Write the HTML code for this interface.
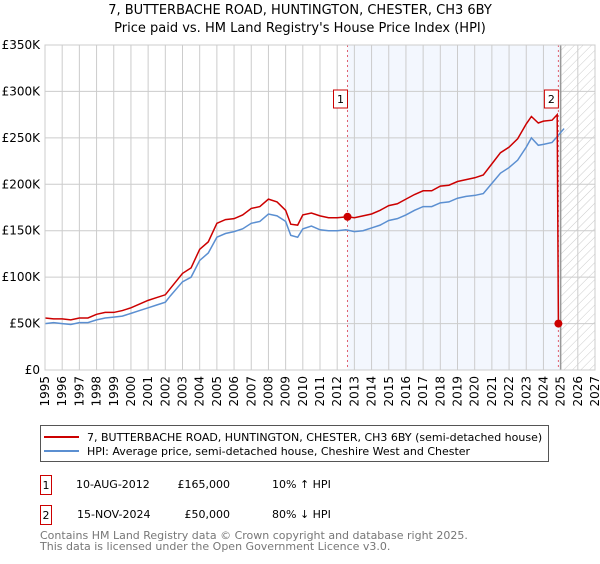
<!DOCTYPE html>
<html><head><meta charset="utf-8"><style>
body{margin:0;background:#fff;font-family:"DejaVu Sans","Liberation Sans",sans-serif;}
svg text{font-family:"DejaVu Sans","Liberation Sans",sans-serif;}
</style></head><body>
<svg id="c" width="600" height="560" viewBox="0 0 600 560" xmlns="http://www.w3.org/2000/svg">
<defs><pattern id="hatch" width="6" height="6" patternUnits="userSpaceOnUse" patternTransform="rotate(45)"><line x1="0" y1="0" x2="0" y2="6" stroke="#ccc" stroke-width="1"/></pattern></defs>
<text x="300" y="14" text-anchor="middle" font-size="13">7, BUTTERBACHE ROAD, HUNTINGTON, CHESTER, CH3 6BY</text>
<text x="300" y="32" text-anchor="middle" font-size="13">Price paid vs. HM Land Registry's House Price Index (HPI)</text>
<g id="plot"></g>
<g>
<rect x="40.5" y="425.5" width="508" height="36" fill="#fff" stroke="#555"/>
<line x1="44" y1="437" x2="79" y2="437" stroke="#cc0000" stroke-width="2"/>
<text x="87" y="441" font-size="11">7, BUTTERBACHE ROAD, HUNTINGTON, CHESTER, CH3 6BY (semi-detached house)</text>
<line x1="44" y1="451" x2="79" y2="451" stroke="#5b8fd1" stroke-width="2"/>
<text x="87" y="455" font-size="11">HPI: Average price, semi-detached house, Cheshire West and Chester</text>
</g>
<g font-size="11">
<rect x="40.5" y="475.5" width="11" height="19" fill="#fff" stroke="#cc0000"/><text x="46" y="489" text-anchor="middle">1</text>
<text x="76" y="488">10-AUG-2012</text><text x="230" y="488" text-anchor="end">£165,000</text><text x="272" y="488">10% ↑ HPI</text>
<rect x="40.5" y="505.5" width="11" height="19" fill="#fff" stroke="#cc0000"/><text x="46" y="519" text-anchor="middle">2</text>
<text x="77" y="518">15-NOV-2024</text><text x="230" y="518" text-anchor="end">£50,000</text><text x="272" y="518">80% ↓ HPI</text>
</g>
<text x="40" y="539" font-size="11" fill="#777">Contains HM Land Registry data © Crown copyright and database right 2025.</text>
<text x="40" y="550" font-size="11" fill="#777">This data is licensed under the Open Government Licence v3.0.</text>
</svg>
<script>
const hpiYears=[1995,1995.5,1996,1996.5,1997,1997.5,1998,1998.5,1999,1999.5,2000,2000.5,2001,2001.5,2002,2002.3,2003,2003.5,2004,2004.5,2005,2005.5,2006,2006.5,2007,2007.5,2008,2008.5,2009,2009.3,2009.7,2010,2010.5,2011,2011.5,2012,2012.5,2013,2013.5,2014,2014.5,2015,2015.5,2016,2016.5,2017,2017.5,2018,2018.5,2019,2019.5,2020,2020.5,2021,2021.5,2022,2022.5,2023,2023.3,2023.7,2024,2024.5,2025.2];
const hpiValues=[50,51,50,49,51,51,54,56,57,58,61,64,67,70,73,80,95,100,118,126,143,147,149,152,158,160,168,166,160,145,143,152,155,151,150,150,151,149,150,153,156,161,163,167,172,176,176,180,181,185,187,188,190,201,212,218,226,240,250,242,243,245,260];
const saleYears=[1995,1995.5,1996,1996.5,1997,1997.5,1998,1998.5,1999,1999.5,2000,2000.5,2001,2001.5,2002,2002.3,2003,2003.5,2004,2004.5,2005,2005.5,2006,2006.5,2007,2007.5,2008,2008.5,2009,2009.3,2009.7,2010,2010.5,2011,2011.5,2012,2012.6,2013,2013.5,2014,2014.5,2015,2015.5,2016,2016.5,2017,2017.5,2018,2018.5,2019,2019.5,2020,2020.5,2021,2021.5,2022,2022.5,2023,2023.3,2023.7,2024,2024.5,2024.8,2024.87];
const saleValues=[56,55,55,54,56,56,60,62,62,64,67,71,75,78,81,88,104,110,130,138,158,162,163,167,174,176,184,181,172,157,156,167,169,166,164,164,165,164,166,168,172,177,179,184,189,193,193,198,199,203,205,207,210,222,234,240,249,265,273,266,268,269,275,50];
const sales=[{year:2012.6,value:165,label:"1"},{year:2024.87,value:50,label:"2"}];
const yTicks=[0,50,100,150,200,250,300,350];
const yTickLabels=["£0","£50K","£100K","£150K","£200K","£250K","£300K","£350K"];
const xTicks=[1995,1996,1997,1998,1999,2000,2001,2002,2003,2004,2005,2006,2007,2008,2009,2010,2011,2012,2013,2014,2015,2016,2017,2018,2019,2020,2021,2022,2023,2024,2025,2026,2027];
const X0=45,X1=595,Y0=370,Y1=45;
const xs=y=>X0+(y-1995)/(2027-1995)*(X1-X0);
const ys=v=>Y0-v/350*(Y0-Y1);
const NS="http://www.w3.org/2000/svg";
const g=document.getElementById('plot');
function mk(t,a){const e=document.createElementNS(NS,t);for(const k in a)e.setAttribute(k,a[k]);g.appendChild(e);return e;}
let e;
e=mk('rect',{x:xs(2012.6),y:Y1,width:xs(2025)-xs(2012.6),height:Y0-Y1,fill:'#eef3fd',opacity:0.7});


e=mk('rect',{x:xs(2025),y:Y1,width:xs(2027)-xs(2025),height:Y0-Y1,fill:'url(#hatch)'});


xTicks.forEach(t=>{
 e=mk('line',{x1:xs(t),x2:xs(t),y1:Y1,y2:Y0,stroke:'#cccccc','stroke-width':1});
 
 
 e=mk('text',{x:0,y:0,'font-size':12,'text-anchor':'end',transform:`translate(${xs(t)+4},${Y0+6}) rotate(-90)`});
 e.textContent=t;
 
 
});
yTicks.forEach((t,i)=>{
 e=mk('line',{x1:X0,x2:X1,y1:ys(t),y2:ys(t),stroke:'#cccccc','stroke-width':1});
 
 
 e=mk('text',{x:X0-5,y:ys(t)+4,'font-size':12,'text-anchor':'end'});
 e.textContent=yTickLabels[i];
 
 
});
e=mk('line',{x1:xs(2025),x2:xs(2025),y1:Y1,y2:Y0,stroke:'#999','stroke-width':1.5});


sales.forEach(s=>{
 e=mk('line',{x1:xs(s.year),x2:xs(s.year),y1:Y1,y2:Y0,stroke:'#e06070','stroke-width':1,'stroke-dasharray':'2,3'});
 
 
});
e=mk('polyline',{points:hpiYears.map((y,i)=>xs(y)+','+ys(hpiValues[i])).join(' '),fill:'none',stroke:'#5b8fd1','stroke-width':1.5});


e=mk('polyline',{points:saleYears.map((y,i)=>xs(y)+','+ys(saleValues[i])).join(' '),fill:'none',stroke:'#cc0000','stroke-width':1.5});


sales.forEach(s=>{
 e=mk('circle',{cx:xs(s.year),cy:ys(s.value),r:4,fill:'#cc0000'});
 
 
 const bx=xs(s.year)-10;
 e=mk('rect',{x:bx-4,y:90,width:14,height:18,fill:'#fff',stroke:'#cc0000'});
 
 
 e=mk('text',{x:bx+3,y:103,'font-size':11,'text-anchor':'middle'});
 e.textContent=s.label;
 
 
});
e=mk('rect',{x:X0,y:Y1,width:X1-X0,height:Y0-Y1,fill:'none',stroke:'#cccccc'});


</script>
</body></html>
